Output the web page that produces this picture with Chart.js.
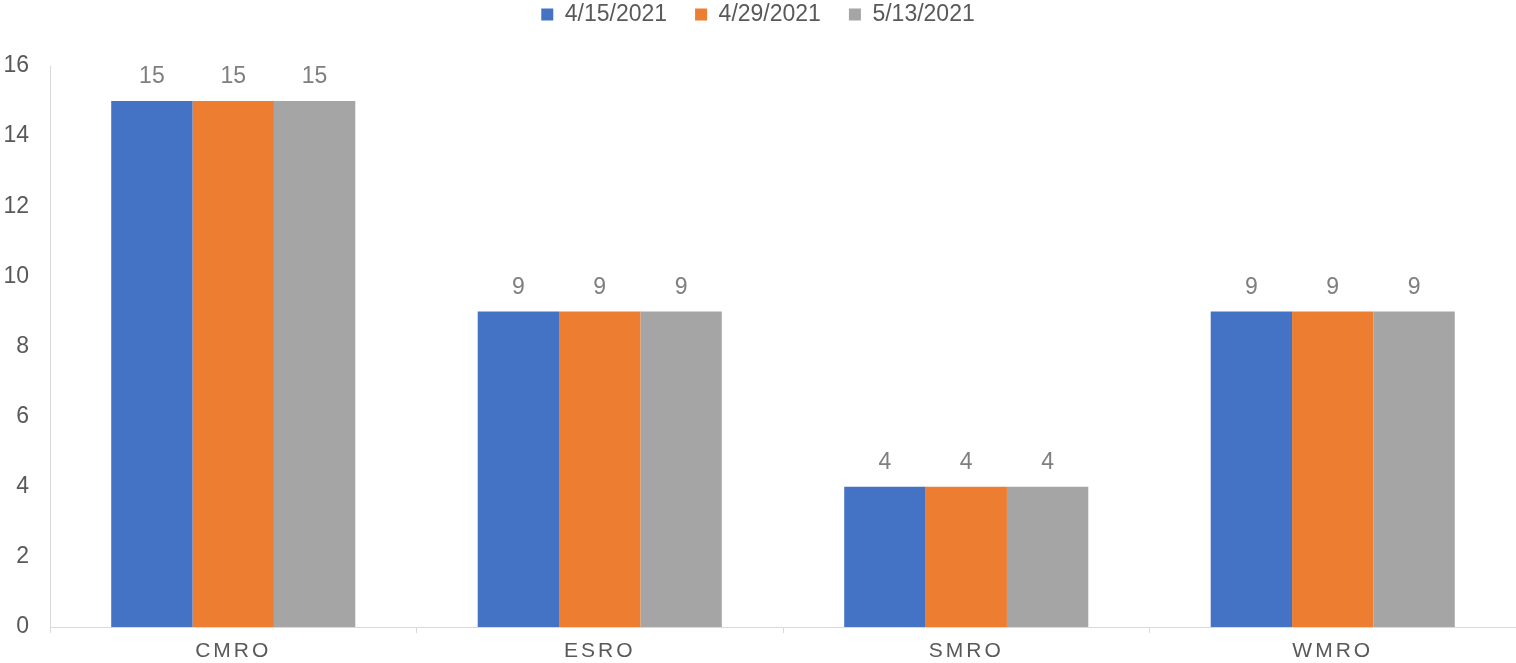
<!DOCTYPE html>
<html>
<head>
<meta charset="utf-8">
<script src="https://cdn.jsdelivr.net/npm/chart.js@4.4.0/dist/chart.umd.min.js"></script>
<style>
  html, body { margin: 0; padding: 0; background: #fff; }
  #wrap { width: 1516px; height: 663px; }
</style>
</head>
<body>
<div id="wrap"><canvas id="grafico"></canvas></div>
<script>
// dados
const regioes = ["CMRO", "ESRO", "SMRO", "WMRO"];
const datas = ["4/15/2021", "4/29/2021", "5/13/2021"];
const valores1 = [15, 9, 4, 9];
const valores2 = [15, 9, 4, 9];
const valores3 = [15, 9, 4, 9];
const cores = ["#4472C4", "#ED7D31", "#A5A5A5"];

const corTexto = "#595959";
const corEixo = "#D9D9D9";
const fonte = "'Liberation Sans', Arial, sans-serif";

// rótulos em cima das barras
const rotulosBarras = {
  id: "rotulosBarras",
  afterDatasetsDraw(chart) {
    const ctx = chart.ctx;
    ctx.save();
    ctx.font = "23px " + fonte;
    ctx.fillStyle = "#7F7F7F";
    ctx.textAlign = "center";
    ctx.textBaseline = "middle";
    chart.data.datasets.forEach((ds, i) => {
      chart.getDatasetMeta(i).data.forEach((bar, j) => {
        ctx.fillText(ds.data[j], bar.x, bar.y - 24);
      });
    });
    ctx.restore();
  },
};

const ctx = document.getElementById("grafico");

const data = {
  labels: regioes,
  datasets: [
    { label: datas[0], data: valores1, backgroundColor: cores[0] },
    { label: datas[1], data: valores2, backgroundColor: cores[1] },
    { label: datas[2], data: valores3, backgroundColor: cores[2] },
  ],
};

const config = {
  type: "bar",
  data: data,
  plugins: [rotulosBarras],
  options: {
    responsive: true,
    maintainAspectRatio: false,
    animation: false,
    categoryPercentage: 0.666,
    barPercentage: 1,
    layout: { padding: { left: 0, right: 0, top: -25, bottom: 0 } },
    plugins: {
      legend: {
        position: "top",
        labels: {
          boxWidth: 12,
          boxHeight: 12,
          padding: 28,
          color: corTexto,
          font: { size: 23, family: fonte },
        },
      },
      tooltip: { enabled: false },
    },
    scales: {
      x: {
        afterFit: (s) => { s.height = 36; },
        grid: {
          display: true,
          drawOnChartArea: false,
          offset: true,
          tickLength: 6,
          color: corEixo,
        },
        border: { color: corEixo, width: 1 },
        ticks: {
          color: corTexto,
          font: { size: 21, family: fonte },
          padding: 6,
        },
      },
      y: {
        min: 0,
        max: 16,
        afterFit: (s) => { s.width = 50; },
        grid: { display: false, drawTicks: false },
        border: { color: corEixo, width: 1 },
        ticks: {
          stepSize: 2,
          color: corTexto,
          font: { size: 23, family: fonte },
          padding: 21,
        },
      },
    },
  },
};

const grafico = new Chart(ctx, config);

// espaçamento entre letras nos rótulos do eixo x
const eixoX = grafico.scales.x;
const desenhaRotulos = eixoX.drawLabels.bind(eixoX);
eixoX.drawLabels = function (area) {
  const c = grafico.ctx;
  c.save();
  c.letterSpacing = "3px";
  desenhaRotulos(area);
  c.restore();
};

// legenda mais alta para empurrar a área do gráfico
const legenda = grafico.legend;
const ajustaLegenda = legenda.fit.bind(legenda);
legenda.fit = function () {
  ajustaLegenda();
  this.height = 91;
};
grafico.update();
</script>
</body>
</html>
